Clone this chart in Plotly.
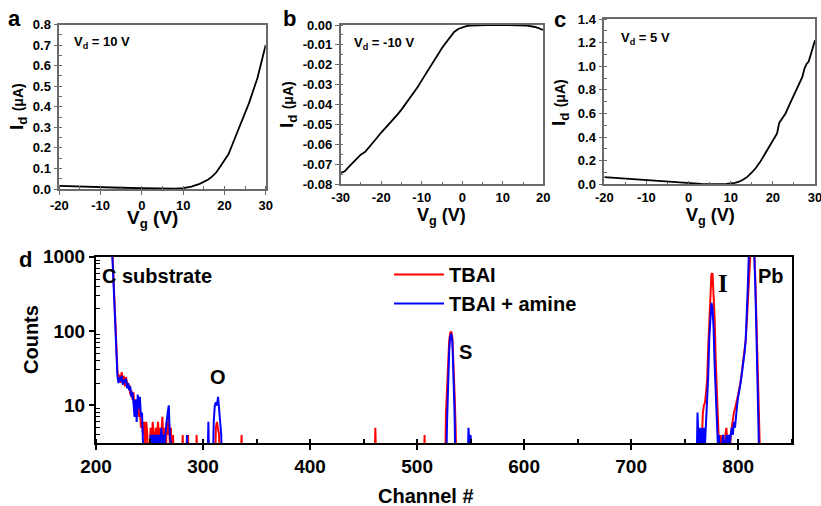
import plotly.graph_objects as go

# ---------------- data ----------------
# Panel a: Vd = 10 V
a_vg = [-20, -15, -10, -5, 0, 5, 8, 10, 12, 14, 16, 17, 18, 19, 20, 21, 22, 23, 24, 25, 26, 27, 28, 29, 30]
a_id = [0.015, 0.011, 0.008, 0.006, 0.004, 0.002, 0.002, 0.004, 0.012, 0.025, 0.045, 0.06, 0.08, 0.11, 0.14,
        0.17, 0.22, 0.27, 0.32, 0.37, 0.42, 0.48, 0.54, 0.62, 0.70]

# Panel b: Vd = -10 V
b_vg = [-30, -29, -28, -27, -26, -25, -24, -23, -22, -21, -20, -19, -18, -17, -16, -15, -14, -13, -12, -11, -10,
        -9, -8, -7, -6, -5, -4, -3, -2, -1, 0, 1, 2, 4, 6, 10, 14, 16, 18, 20]
b_id = [-0.0743, -0.0735, -0.0712, -0.0690, -0.0672, -0.0650, -0.0638, -0.0612, -0.0590, -0.0565, -0.0540,
        -0.0518, -0.0495, -0.0475, -0.0450, -0.0425, -0.0398, -0.0372, -0.0342, -0.0312, -0.0278,
        -0.0245, -0.0210, -0.0178, -0.0143, -0.0115, -0.0088, -0.0060, -0.0035, -0.0020, -0.0012,
        -0.0006, -0.0003, -0.0001, 0.0, 0.0, -0.0001, -0.0003, -0.0010, -0.0025]

# Panel c: Vd = 5 V
c_vg = [-20, -15, -10, -5, 0, 3, 6, 9, 11, 12, 13, 14, 15, 16, 17, 18, 19, 20, 21, 21.5, 22, 23, 24, 25, 26,
        27, 27.5, 28, 28.5, 29, 30]
c_id = [0.060, 0.047, 0.035, 0.022, 0.010, 0.004, 0.002, 0.004, 0.012, 0.022, 0.040, 0.065, 0.10, 0.14, 0.19,
        0.25, 0.31, 0.37, 0.43, 0.52, 0.55, 0.60, 0.68, 0.76, 0.84, 0.91, 0.98, 1.02, 1.04, 1.10, 1.22]

# Panel d: RBS spectra (counts of 1 = empty channel, below plotted range)
tbai_ch = [210, 214, 215, 216, 217, 218, 219, 220, 221, 222, 223, 224, 225, 226, 227, 228, 229, 230, 231, 232,
           233, 234, 235, 236, 237, 238, 239, 240, 241, 242, 243, 244, 245, 246, 247, 248, 249, 250, 251, 252,
           253, 254, 255, 256, 257, 258, 259, 260, 261, 262, 263, 264, 265, 266, 267, 268, 269, 270, 271, 272,
           273, 280, 281, 282, 285, 286, 287, 293, 294, 295, 311, 312, 313, 314, 315, 316, 335, 336, 337,
           460, 461, 462, 506, 507, 508, 526, 527, 528, 529, 530, 531, 532, 533, 534, 535, 536, 537,
           764, 765, 766, 767, 768, 769, 770, 771, 772, 773, 774, 775, 776, 777, 778, 779, 780, 781, 782, 783,
           784, 785, 786, 787, 788, 789, 790, 791, 792, 793, 794, 795, 796, 797, 798, 799, 800, 801, 802, 803,
           804, 805, 806, 807, 808, 809, 810, 811, 812, 813, 814, 815, 816, 817, 818, 819, 820, 821, 850]
tbai_counts = [3000, 2500, 1500, 700, 300, 120, 50, 30, 22, 26, 20, 28, 22, 25, 18, 24, 20, 17, 19, 14,
               16, 12, 15, 9, 12, 8, 10, 7, 9, 5, 6, 4, 6, 3, 6, 4, 1, 3, 5, 3,
               6, 4, 3, 5, 4, 6, 3, 5, 4, 7, 3, 5, 1, 6, 4, 7, 3, 5, 1, 4,
               1, 1, 4, 1, 1, 4, 1, 1, 4, 1, 1, 5, 6, 5, 4, 1, 1, 4, 1,
               1, 5, 1, 1, 4, 1, 1, 8, 18, 40, 75, 95, 98, 80, 40, 15, 5, 1,
               1, 4, 3, 8, 10, 11, 15, 22, 60, 160, 380, 580, 600, 350, 150, 40, 14, 5, 3, 4,
               1, 4, 3, 1, 4, 5, 3, 4, 1, 4, 5, 7, 8, 9, 10, 12, 14, 16, 20, 25,
               32, 42, 55, 75, 130, 350, 1000, 2000, 3000, 3000, 3000, 1500, 500, 150, 40, 8, 3, 1, 1]

amine_ch = [210, 215, 216, 217, 218, 219, 220, 221, 222, 223, 224, 225, 226, 227, 228, 229, 230, 231, 232, 233,
            234, 235, 236, 237, 238, 239, 240, 241, 242, 243, 244, 245, 250, 251, 252, 253, 254, 255, 256, 257,
            258, 259, 260, 261, 262, 263, 264, 265, 266, 267, 268, 269, 270, 271, 284, 285, 286, 304, 305, 306,
            309, 310, 311, 312, 313, 314, 315, 316, 317, 318,
            527, 528, 529, 530, 531, 532, 533, 534, 535, 536, 547, 548, 549, 550, 551,
            761, 762, 763, 764, 765, 766, 767, 768, 769, 770, 771, 772, 773, 774, 775, 776, 777, 778, 779, 780,
            781, 782, 783, 785, 786, 787, 788, 789, 790, 791, 792, 793, 794, 795, 796, 797, 798, 799, 800, 801,
            802, 803, 804, 805, 806, 807, 808, 809, 810, 811, 812, 813, 814, 815, 816, 817, 818, 819, 820, 850]
amine_counts = [3000, 1200, 600, 250, 100, 45, 25, 20, 24, 21, 25, 19, 22, 20, 23, 17, 20, 16, 18, 13,
                15, 11, 7, 12, 6, 14, 9, 13, 7, 8, 3, 1, 1, 4, 3, 4, 3, 4, 3, 4,
                3, 4, 3, 5, 3, 4, 3, 5, 6, 8, 10, 4, 3, 1, 1, 4, 1, 1, 6, 1,
                1, 6, 10, 11, 10, 13, 9, 5, 4, 1,
                1, 6, 20, 55, 85, 92, 70, 30, 8, 1, 1, 5, 3, 4, 1,
                1, 8, 3, 5, 1, 5, 3, 5, 3, 6, 10, 25, 80, 170, 240, 200, 110, 35, 12, 5,
                3, 4, 1, 3, 4, 3, 1, 4, 3, 4, 3, 4, 5, 4, 6, 5, 8, 10, 13, 15,
                19, 24, 30, 40, 52, 75, 140, 400, 1100, 3000, 3000, 3000, 3000, 1200, 400, 100, 25, 5, 1, 1]

# tick labels
a_xticks = [-20, -10, 0, 10, 20, 30]
a_yticks = [0.0, 0.1, 0.2, 0.3, 0.4, 0.5, 0.6, 0.7, 0.8]
b_xticks = [-30, -20, -10, 0, 10, 20]
b_yticks = [0.0, -0.01, -0.02, -0.03, -0.04, -0.05, -0.06, -0.07, -0.08]
c_xticks = [-20, -10, 0, 10, 20, 30]
c_yticks = [0.0, 0.2, 0.4, 0.6, 0.8, 1.0, 1.2, 1.4]
d_xticks = [200, 300, 400, 500, 600, 700, 800]
d_yticks = [10, 100, 1000]

FONT = "Liberation Sans, Arial, sans-serif"
GREY = "#6a6a6a"
W, H = 821, 506


def px(x):
    return x / W


def py(y):
    return 1 - y / H


def lbl(v, fmt):
    return (fmt % v).replace("\u2212", "-")


fig = go.Figure()
fig.add_trace(go.Scatter(x=a_vg, y=a_id, mode="lines", line=dict(color="black", width=1.8),
                         xaxis="x", yaxis="y", showlegend=False))
fig.add_trace(go.Scatter(x=b_vg, y=b_id, mode="lines", line=dict(color="black", width=1.8),
                         xaxis="x2", yaxis="y2", showlegend=False))
fig.add_trace(go.Scatter(x=c_vg, y=c_id, mode="lines", line=dict(color="black", width=1.8),
                         xaxis="x3", yaxis="y3", showlegend=False))
fig.add_trace(go.Scatter(x=tbai_ch, y=tbai_counts, mode="lines", name="TBAI",
                         line=dict(color="#ff0000", width=2), xaxis="x4", yaxis="y4"))
fig.add_trace(go.Scatter(x=amine_ch, y=amine_counts, mode="lines", name="TBAI + amine",
                         line=dict(color="#0000ff", width=2), xaxis="x4", yaxis="y4"))

small_tick = dict(size=13, family=FONT, color="black", weight="bold")


def small_axes(xdom, ydom, xr, yr, xt, yt, yfmt, ydt_minor, anchor_x, anchor_y, xticks_dir):
    xa = dict(domain=xdom, range=xr, anchor=anchor_y, tickvals=xt, ticktext=[lbl(v, "%d") for v in xt],
              ticks=xticks_dir, ticklen=4, tickwidth=1.2, tickcolor=GREY, showline=True, linecolor=GREY,
              linewidth=1.5, mirror=True, showgrid=False, zeroline=False, tickfont=small_tick,
              automargin=False, ticklabeloverflow="allow",
              minor=dict(dtick=5, ticks="inside", ticklen=3, tickcolor=GREY, showgrid=False))
    ya = dict(domain=ydom, range=yr, anchor=anchor_x, tickvals=yt, ticktext=[lbl(v, yfmt) for v in yt],
              ticks="outside", ticklen=4, tickwidth=1.2, tickcolor=GREY, showline=True, linecolor=GREY,
              linewidth=1.5, mirror=True, showgrid=False, zeroline=False, tickfont=small_tick,
              automargin=False, ticklabeloverflow="allow",
              minor=dict(dtick=ydt_minor, ticks="inside", ticklen=3, tickcolor=GREY, showgrid=False))
    return xa, ya


xa1, ya1 = small_axes([px(59.3), px(265.7)], [py(189), py(24.5)], [-20, 30], [0, 0.8], a_xticks, a_yticks,
                      "%.1f", 0.05, "x", "y", "outside")
xa2, ya2 = small_axes([px(340.7), px(543.3)], [py(184.3), py(25)], [-30, 20], [-0.08, 0.0], b_xticks,
                      b_yticks, "%.2f", 0.005, "x2", "y2", "inside")
xa3, ya3 = small_axes([px(604.3), px(815)], [py(184.3), py(19)], [-20, 30], [0, 1.4], c_xticks, c_yticks,
                      "%.1f", 0.1, "x3", "y3", "inside")

big_tick = dict(size=19, family=FONT, color="black", weight="bold")
minor_log = [v * m for m in (1, 10, 100) for v in (4, 5, 6, 7, 8, 9)] + [20, 30, 200, 300]

xa4 = dict(domain=[px(96), px(791.7)], range=[200, 850], anchor="y4", tickvals=d_xticks,
           ticktext=[str(v) for v in d_xticks], ticks="outside", ticklen=5, tickwidth=2, tickcolor="black",
           showline=True, linecolor="black", linewidth=2, mirror=True, showgrid=False, zeroline=False,
           tickfont=big_tick, automargin=False,
           minor=dict(dtick=50, ticks="inside", ticklen=4, tickwidth=1.5, tickcolor="black", showgrid=False))
ya4 = dict(domain=[py(443.3), py(256.7)], type="log", range=[0.49, 3.0], anchor="x4", tickvals=d_yticks,
           ticktext=[str(v) for v in d_yticks], ticks="outside", ticklen=5, tickwidth=2, tickcolor="black",
           showline=True, linecolor="black", linewidth=2, mirror=True, showgrid=False, zeroline=False,
           tickfont=big_tick, automargin=False,
           minor=dict(tickvals=minor_log, ticks="inside", ticklen=4, tickwidth=1.2, tickcolor="black",
                      showgrid=False))

ann_font = dict(size=13, family=FONT, color="black", weight="bold")
title_font = dict(size=19, family=FONT, color="black", weight="bold")
title_font_bc = dict(size=18, family=FONT, color="black", weight="bold")
panel_font = dict(size=22, family=FONT, color="black", weight="bold")
d_font = dict(size=20, family=FONT, color="black", weight="bold")
id_title = "I<sub>d</sub> <span style='font-size:14px'>(\u03bcA)</span>"
vg_title = "V<sub>g</sub> (V)"
annotations = [
    dict(text="a", x=px(14), y=py(18), font=panel_font),
    dict(text="b", x=px(289), y=py(18), font=panel_font),
    dict(text="c", x=px(560), y=py(20), font=panel_font),
    dict(text="d", x=px(26), y=py(259), font=panel_font),
    dict(text="V<sub>d</sub> = 10 V", x=px(72), y=py(43), xanchor="left", font=ann_font),
    dict(text="V<sub>d</sub> = -10 V", x=px(352), y=py(44), xanchor="left", font=ann_font),
    dict(text="V<sub>d</sub> = 5 V", x=px(619), y=py(38), xanchor="left", font=ann_font),
    # axis titles
    dict(text=id_title, x=px(18), y=py(107), textangle=-90, font=title_font),
    dict(text=vg_title, x=px(152), y=py(219), font=title_font),
    dict(text=id_title, x=px(288), y=py(105), textangle=-90, font=title_font),
    dict(text=vg_title, x=px(442), y=py(204), yanchor="top", borderpad=0, font=title_font_bc),
    dict(text=id_title, x=px(560), y=py(103), textangle=-90, font=title_font),
    dict(text=vg_title, x=px(710), y=py(204), yanchor="top", borderpad=0, font=title_font_bc),
    dict(text="Counts", x=px(31), y=py(340), textangle=-90, font=d_font),
    dict(text="Channel #", x=px(426), y=py(496), font=d_font),
    # peak labels
    dict(text="C substrate", x=px(157), y=py(276), font=d_font),
    dict(text="O", x=px(218), y=py(377), font=d_font),
    dict(text="S", x=px(465), y=py(352), font=d_font),
    dict(text="I", x=px(723), y=py(283),
         font=dict(size=25, family="Liberation Serif, Times New Roman, serif", color="black", weight="bold")),
    dict(text="Pb", x=px(771), y=py(276), font=d_font),
]
for a in annotations:
    a.update(xref="paper", yref="paper", showarrow=False)
    a.setdefault("xanchor", "center")
    a.setdefault("yanchor", "middle")

fig.update_layout(
    width=W, height=H, margin=dict(l=0, r=0, t=0, b=0, autoexpand=False),
    paper_bgcolor="white", plot_bgcolor="white",
    font=dict(family=FONT, color="black"),
    xaxis=xa1, yaxis=ya1, xaxis2=xa2, yaxis2=ya2, xaxis3=xa3, yaxis3=ya3, xaxis4=xa4, yaxis4=ya4,
    annotations=annotations,
    legend=dict(x=px(389), y=py(255), xanchor="left", yanchor="top", bgcolor="rgba(0,0,0,0)",
                font=dict(size=20, family=FONT, color="black", weight="bold"),
                itemwidth=50, tracegroupgap=0),
)

fig.write_html("out.html", config={"displayModeBar": False},
               post_script="document.body.style.margin='0';document.body.style.overflow='hidden';")
